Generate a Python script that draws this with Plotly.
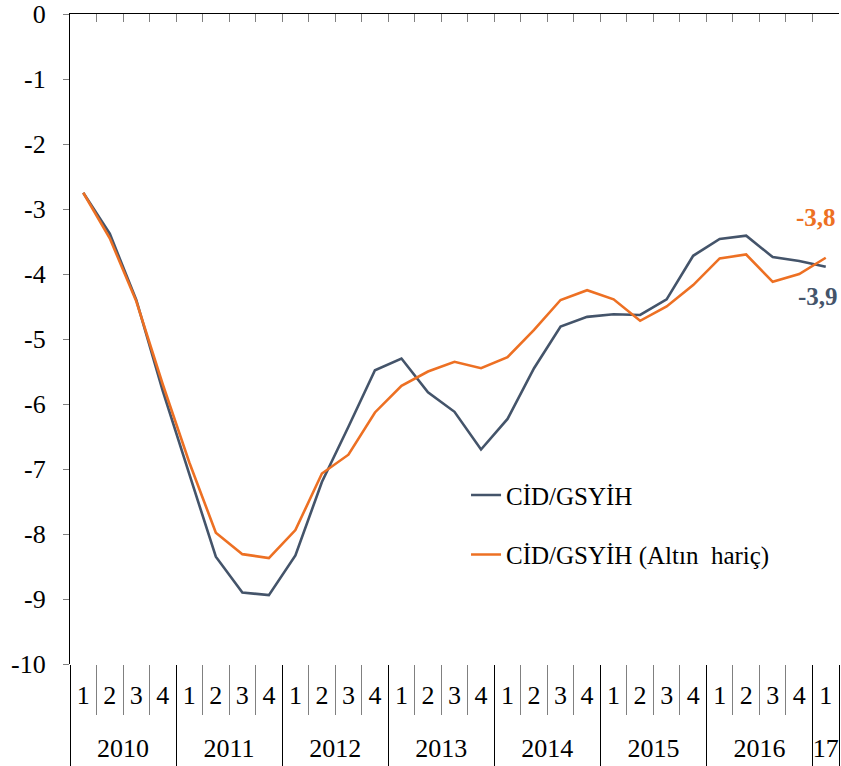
import plotly.graph_objects as go

years = ["2010"] * 4 + ["2011"] * 4 + ["2012"] * 4 + ["2013"] * 4 + ["2014"] * 4 + ["2015"] * 4 + ["2016"] * 4 + ["17"]
quarters = ["1", "2", "3", "4"] * 7 + ["1"]

cid_gsyih = [-2.75, -3.38, -4.40, -5.80, -7.08, -8.35, -8.90, -8.94, -8.33, -7.20,
             -6.35, -5.48, -5.30, -5.82, -6.12, -6.70, -6.23, -5.45, -4.81, -4.66,
             -4.62, -4.63, -4.39, -3.72, -3.46, -3.41, -3.74, -3.80, -3.89]
cid_gsyih_altin_haric = [-2.75, -3.45, -4.42, -5.70, -6.90, -7.98, -8.31, -8.37, -7.94, -7.07,
                         -6.78, -6.13, -5.72, -5.50, -5.35, -5.45, -5.28, -4.86, -4.40, -4.25,
                         -4.39, -4.72, -4.50, -4.17, -3.76, -3.70, -4.12, -4.00, -3.75]

names = ["CİD/GSYİH", "CİD/GSYİH (Altın  hariç)"]
end_labels = ["-3,9", "-3,8"]
y_ticks = [0, -1, -2, -3, -4, -5, -6, -7, -8, -9, -10]

BLUE = "#44546A"
ORANGE = "#ED7023"
GRAY = "#808080"
FONT = "Liberation Serif"

n = len(quarters)
idx = list(range(n))
boundaries = [i - 0.5 for i in range(n + 1)]

# year groups derived from the years list
groups = []
for i, yv in enumerate(years):
    if not groups or groups[-1][0] != yv:
        groups.append([yv, i, i])
    else:
        groups[-1][2] = i
year_names = [g[0] for g in groups]
year_centers = [(g[1] + g[2]) / 2 for g in groups]
year_bounds = [g[1] - 0.5 for g in groups] + [groups[-1][2] + 0.5]

fig = go.Figure()
fig.add_trace(go.Scatter(x=idx, y=cid_gsyih, mode="lines", name=names[0],
                         line=dict(color=BLUE, width=2.6), legendgroup="a"))
fig.add_trace(go.Scatter(x=idx, y=cid_gsyih_altin_haric, mode="lines", name=names[1],
                         line=dict(color=ORANGE, width=2.6), legendgroup="b"))
for ax in ["x2", "x3", "x4", "x5"]:
    fig.add_trace(go.Scatter(x=[None], y=[None], xaxis=ax, yaxis="y", showlegend=False,
                             hoverinfo="skip", mode="lines"))

rng = [-0.5, n - 0.5]
common = dict(range=rng, showgrid=False, zeroline=False, automargin=False,
              ticklabeloverflow="allow")

fig.update_layout(
    width=841, height=766,
    margin=dict(l=70, r=2, t=14, b=102, autoexpand=False),
    paper_bgcolor="white", plot_bgcolor="white",
    font=dict(family=FONT, size=26, color="black"),
    showlegend=True,
    legend=dict(x=0.515, y=0.295, xanchor="left", yanchor="top",
                bgcolor="rgba(0,0,0,0)", font=dict(size=25, family=FONT),
                tracegroupgap=24),
    xaxis=dict(**common, showline=False, tickmode="array", tickvals=idx, ticktext=quarters,
               ticks="outside", ticklen=8, tickcolor="rgba(0,0,0,0)",
               tickfont=dict(size=26, family=FONT)),
    xaxis2=dict(**common, overlaying="x", side="top", anchor="y",
                showline=True, linecolor="black", linewidth=1.3,
                ticks="inside", ticklen=8, tickcolor=GRAY, tickwidth=1.3,
                tickmode="array", tickvals=boundaries, showticklabels=False),
    xaxis3=dict(**common, overlaying="x", side="bottom", anchor="y", showline=False,
                ticks="outside", ticklen=50, tickcolor=GRAY, tickwidth=1.3,
                tickmode="array", tickvals=boundaries, showticklabels=False),
    xaxis4=dict(**common, overlaying="x", side="bottom", anchor="y", showline=False,
                ticks="outside", ticklen=104, tickcolor="black", tickwidth=1.2,
                tickmode="array", tickvals=year_bounds, showticklabels=False),
    xaxis5=dict(**common, overlaying="x", side="bottom", anchor="y", showline=False,
                ticks="outside", ticklen=61, tickcolor="rgba(0,0,0,0)",
                tickmode="array", tickvals=year_centers, ticktext=year_names,
                tickfont=dict(size=26, family=FONT)),
    yaxis=dict(range=[-10, 0], tickmode="array", tickvals=y_ticks, ticktext=[str(v) for v in y_ticks],
               showline=True, linecolor="black", linewidth=1.3,
               ticks="outside", ticklen=6, tickcolor=GRAY, tickwidth=1.3,
               showgrid=False, zeroline=False, ticklabelstandoff=12, automargin=False,
               ticklabeloverflow="allow", tickfont=dict(size=26, family=FONT)),
)

fig.add_annotation(x=idx[-1], xref="x", y=cid_gsyih_altin_haric[-1], yref="y",
                   text="<b>" + end_labels[1] + "</b>", showarrow=False,
                   xshift=-10, yshift=40, font=dict(size=25, color=ORANGE, family=FONT))
fig.add_annotation(x=idx[-1], xref="x", y=cid_gsyih[-1], yref="y",
                   text="<b>" + end_labels[0] + "</b>", showarrow=False,
                   xshift=-8, yshift=-30, font=dict(size=25, color=BLUE, family=FONT))

# remove the default 8px page margin so the 841x766 figure fills the window
fig.write_html("out.html", config={"displayModeBar": False},
               post_script="document.body.style.margin='0';document.body.style.overflow='hidden';")
